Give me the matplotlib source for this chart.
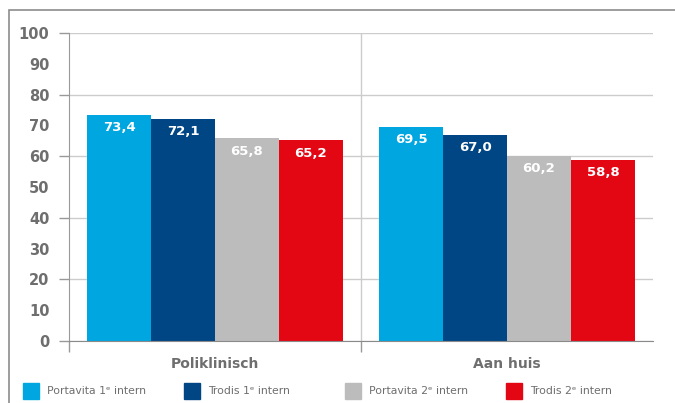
import numpy as np
import matplotlib
matplotlib.use("Agg")
import matplotlib.pyplot as plt
from matplotlib.patches import Rectangle

# data
groups = ["Poliklinisch", "Aan huis"]
series = ["Portavita 1ᵉ intern", "Trodis 1ᵉ intern", "Portavita 2ᵉ intern", "Trodis 2ᵉ intern"]
colors = ["#00a6e0", "#004684", "#bcbcbc", "#e30613"]
values = [
    [73.4, 69.5],
    [72.1, 67.0],
    [65.8, 60.2],
    [65.2, 58.8],
]
yticks = list(range(0, 101, 10))

W, H = 675, 403
fig = plt.figure(figsize=(W / 100, H / 100), dpi=100)
ax = fig.add_axes([69 / W, 1 - 341 / H, (653 - 69) / W, (341 - 33) / H])

grey_txt = "#6e6e6e"
bw = 0.219
x = np.arange(len(groups))
for i, (name, col) in enumerate(zip(series, colors)):
    pos = x + (i - 1.5) * bw
    bars = ax.bar(pos, values[i], width=bw, color=col, zorder=2)
    for b, v in zip(bars, values[i]):
        ax.text(b.get_x() + b.get_width() / 2, v - 4.2, f"{v:.1f}".replace(".", ","),
                ha="center", va="center", color="white", fontsize=9.5, fontweight="bold", zorder=3)

ax.set_xlim(-0.5, 1.5)
ax.set_ylim(0, 100)
# major ticks every 20 carry the gridlines and tick marks, minor ones only labels
major = yticks[::2]
minor = yticks[1::2]
ax.set_yticks(major)
ax.set_yticklabels([str(t) for t in major])
ax.set_yticks(minor, minor=True)
ax.set_yticklabels([str(t) for t in minor], minor=True)
ax.tick_params(axis="y", which="major", length=7, pad=7, color="#999999", width=1,
               labelsize=10.5, labelcolor=grey_txt)
ax.tick_params(axis="y", which="minor", length=0, pad=14, labelsize=10.5, labelcolor=grey_txt)
for lab in ax.get_yticklabels() + ax.get_yticklabels(minor=True):
    lab.set_fontweight("bold")
ax.grid(axis="y", which="major", color="#cccccc", linewidth=1, zorder=0)
ax.set_axisbelow(True)

# category axis: ticks at group boundaries
ax.set_xticks([-0.5, 0.5])
ax.set_xticklabels([])
ax.tick_params(axis="x", length=8, color="#999999", width=1)
ax.axvline(0.5, color="#cccccc", linewidth=1, zorder=1)
for xi, g in zip(x, groups):
    ax.text(xi, -7.5, g, ha="center", va="center", fontsize=10, fontweight="bold",
            color=grey_txt, clip_on=False)

for s in ["top", "right"]:
    ax.spines[s].set_visible(False)
ax.spines["left"].set_color("#999999")
ax.spines["bottom"].set_color("#8a8a8a")
ax.spines["bottom"].set_zorder(4)

# legend along the bottom
for i, (name, col) in enumerate(zip(series, colors)):
    x0 = 23 + i * 161
    fig.add_artist(Rectangle((x0 / W, 1 - 399 / H), 16 / W, 16 / H,
                             transform=fig.transFigure, color=col))
    fig.text((x0 + 24) / W, 1 - 391 / H, name, ha="left", va="center",
             fontsize=7.8, color=grey_txt)

# outer frame
fig.add_artist(Rectangle((9 / W, -0.2), 1.2, 1 - 10 / H + 0.2, transform=fig.transFigure,
                         fill=False, edgecolor="#8c8c8c", linewidth=1.2))

fig.savefig("out.png", dpi=100)
